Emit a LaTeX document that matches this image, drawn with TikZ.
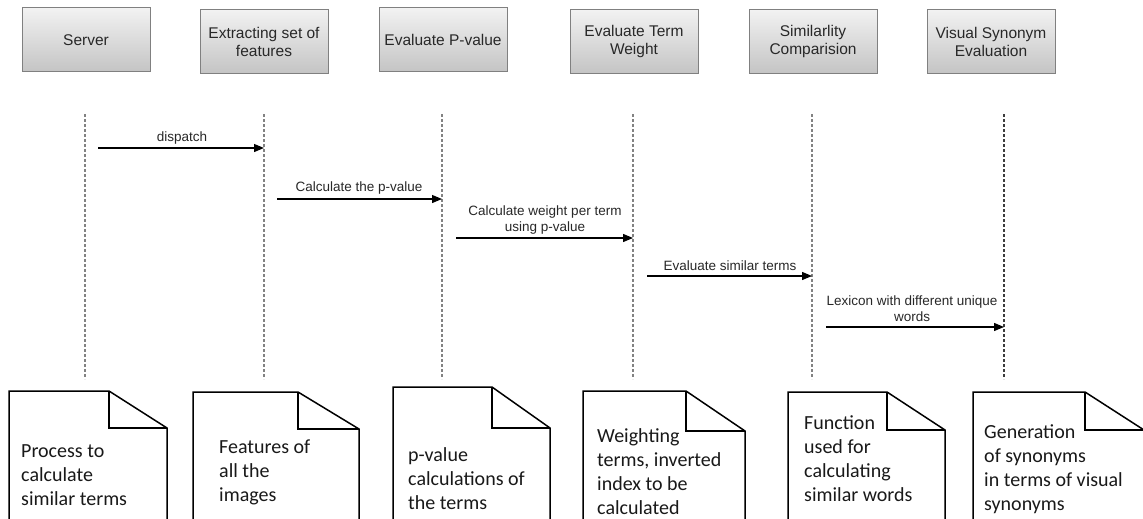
\documentclass[tikz,border=0pt]{standalone}
\usepackage{fontspec}
\setmainfont{Liberation Sans}
\newfontfamily\notefont{Carlito}
\usetikzlibrary{arrows.meta}
\definecolor{boxedge}{RGB}{128,128,128}
\definecolor{boxtop}{RGB}{242,242,242}
\definecolor{boxbot}{RGB}{196,196,196}
\definecolor{lifegray}{RGB}{130,130,130}
\definecolor{lifedark}{RGB}{60,60,60}
\definecolor{headtext}{RGB}{40,40,40}
\tikzset{
  actor/.style={draw=boxedge, line width=1pt, top color=boxtop, bottom color=boxbot,
    minimum width=128pt, minimum height=64pt, inner sep=0pt, align=center,
    font=\fontsize{15.5}{18}\selectfont, text=headtext},
  lifeline/.style={draw=lifegray, line width=1.6pt, dash pattern=on 2.5pt off 2.5pt},
  message/.style={draw=black, line width=1.2pt, -{Triangle[length=10pt,width=8pt]}},
  msglabel/.style={inner sep=0pt, align=center, font=\fontsize{13.5}{16}\selectfont, text=headtext},
  notepage/.style={draw=black, line width=1.5pt, fill=white, line join=miter},
  notefold/.style={draw=black, line width=1.3pt},
  notetext/.style={anchor=north west, inner sep=0pt, align=left,
    font=\notefont\fontsize{20}{24}\selectfont, text=black!90}
}
\begin{document}
\begin{tikzpicture}[x=1pt,y=-1pt]
\clip (0,0) rectangle (1143,519);
\fill[white] (0,0) rectangle (1143,519);

% participants
\node[actor] (server)  at (86,40)  {Server};
\node[actor] (extract) at (264,41.5) {Extracting set of\\features};
\node[actor] (pval)    at (443,40) {Evaluate P-value};
\node[actor] (weight)  at (634,41.5) {Evaluate Term\\Weight};
\node[actor] (simil)   at (813,41.5) {Similarlity\\Comparision};
\node[actor] (visual)  at (991,41.5) {Visual Synonym\\Evaluation};

% lifelines
\foreach \n/\x in {l1/85, l2/264, l3/442, l4/633, l5/812, l6/1004} {
  \coordinate (\n top) at (\x,114);
  \coordinate (\n bot) at (\x,379);
}
\draw[lifeline] (l1top) -- (l1bot);
\draw[lifeline] (l2top) -- (l2bot);
\draw[lifeline] (l3top) -- (l3bot);
\draw[lifeline] (l4top) -- (l4bot);
\draw[lifeline] (l5top) -- (l5bot);
\draw[lifeline, draw=lifedark] (l6top) -- (l6bot);

% messages
\coordinate (m1s) at (98,148);  \coordinate (m1e) at (264,148);
\coordinate (m2s) at (277,199); \coordinate (m2e) at (442,199);
\coordinate (m3s) at (456,238); \coordinate (m3e) at (633,238);
\coordinate (m4s) at (647,276); \coordinate (m4e) at (812,276);
\coordinate (m5s) at (826,327); \coordinate (m5e) at (1004,327);
\draw[message] (m1s) -- (m1e);
\draw[message] (m2s) -- (m2e);
\draw[message] (m3s) -- (m3e);
\draw[message] (m4s) -- (m4e);
\draw[message] (m5s) -- (m5e);
\node[msglabel] (t1) at (182,138) {dispatch};
\node[msglabel] (t2) at (359,188) {Calculate the p-value};
\node[msglabel] (t3) at (545,220) {Calculate weight per term\\using p-value};
\node[msglabel] (t4) at (730,266) {Evaluate similar terms};
\node[msglabel] (t5) at (912,308.5) {Lexicon with different unique\\words};

% notes with folded corner: left, top, fold start, right, fold bottom
\foreach \L/\T/\C/\R/\F in {9/391/109/167/428, 193/392/298/359/429, 393/387/492/550/428,
                             583/391/686/745/431, 788/392/887/945/430, 973/392/1085/1144/430} {
  \draw[notepage] (\L,530) -- (\L,\T) -- (\C,\T) -- (\R,\F) -- (\R,530);
  \draw[notefold] (\C,\T) -- (\C,\F) -- (\R,\F);
}
\node[notetext] (n1) at (21,440.2)  {\strut Process to\\calculate\\similar terms};
\node[notetext] (n2) at (219,436.2) {\strut Features of\\all the\\images};
\node[notetext] (n3) at (408,444.2) {\strut p-value\\calculations of\\the terms};
\node[notetext] (n4) at (597,425.2) {\strut Weighting\\terms, inverted\\index to be\\calculated};
\node[notetext] (n5) at (804,412.2) {\strut Function\\used for\\calculating\\similar words};
\node[notetext] (n6) at (984,421.2) {\strut Generation\\of synonyms\\in terms of visual\\synonyms};
\end{tikzpicture}
\end{document}
